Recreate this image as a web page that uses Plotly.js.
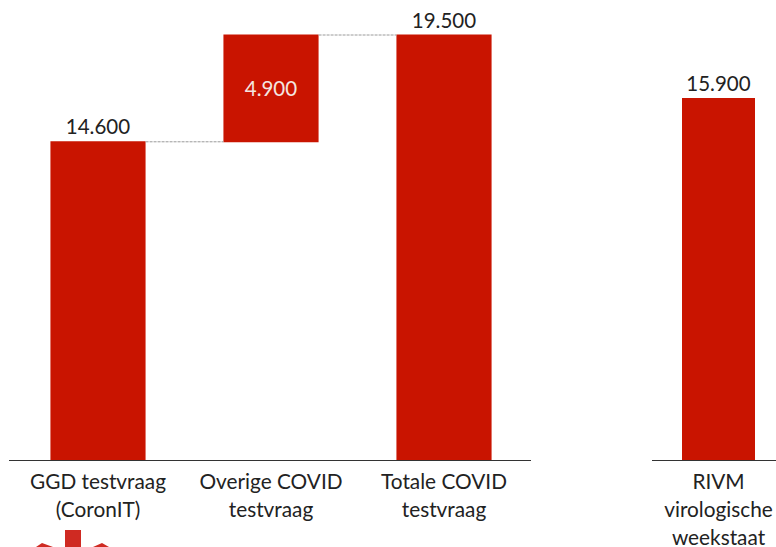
<!DOCTYPE html>
<html>
<head>
<meta charset="utf-8">
<script src="https://cdn.plot.ly/plotly-3.0.1.min.js"></script>
<style>html,body{margin:0;padding:0;background:#fff;overflow:hidden}</style>
</head>
<body>
<div id="chart" style="width:776px;height:547px"></div>
<script>
const leftCategories = [["GGD testvraag", "(CoronIT)"], ["Overige COVID", "testvraag"], ["Totale COVID", "testvraag"]];
const leftValues = [14600, 4900, 19500];
const leftMeasures = ["absolute", "relative", "total"];
const leftLabels = ["14.600", "4.900", "19.500"];
const rightCategories = [["RIVM", "virologische", "weekstaat"]];
const rightValues = [15900];
const rightLabels = ["15.900"];
const RED = "#c91400";
const FONT = "Lato, 'Open Sans', sans-serif";

const W = 776, H = 547;
const baseY = 460;

// The line pitch of a tick label follows the tick font size, so the text itself is set slightly smaller.
const tickLabel = lines => lines.map(l => `<span style="font-size:20.8px">${l}</span>`).join("<br>");

const traces = [
  {
    type: "waterfall", x: [0, 1, 2], y: leftValues, measure: leftMeasures,
    text: leftLabels, textposition: ["outside", "inside", "outside"],
    insidetextanchor: "middle",
    textangle: 0, constraintext: "none",
    outsidetextfont: {family: FONT, size: 20.5, color: "#222"},
    insidetextfont: {family: FONT, size: 20.5, color: "#f4e6e0"},
    width: 0.55,
    increasing: {marker: {color: RED, line: {width: 0}}},
    decreasing: {marker: {color: RED, line: {width: 0}}},
    totals: {marker: {color: RED, line: {width: 0}}},
    connector: {mode: "between", line: {color: "#9a9a9a", width: 1, dash: "3px,1px"}},
    cliponaxis: false, hoverinfo: "skip", xaxis: "x", yaxis: "y"
  },
  {
    type: "bar", x: [0], y: rightValues,
    text: rightLabels, textposition: "outside", textangle: 0,
    outsidetextfont: {family: FONT, size: 20.5, color: "#222"},
    width: 0.55, marker: {color: RED, line: {width: 0}},
    cliponaxis: false, hoverinfo: "skip", xaxis: "x2", yaxis: "y2"
  }
];

const tickFont = {family: FONT, size: 21.5, color: "#222"};
const px = v => v / W;
const py = v => (H - v) / H;
const layout = {
  width: W, height: H,
  margin: {l: 0, r: 0, t: 0, b: 0},
  paper_bgcolor: "#fff", plot_bgcolor: "#fff",
  showlegend: false, bargap: 0,
  xaxis: {
    domain: [9 / W, 531 / W], range: [(9 - 98) / 173, (531 - 98) / 173],
    tickmode: "array", tickvals: [0, 1, 2], ticktext: leftCategories.map(tickLabel),
    tickfont: tickFont, ticks: "", ticklen: 0, ticklabelstandoff: 2,
    showline: true, linecolor: "#333", linewidth: 1, showgrid: false, zeroline: false, anchor: "y"
  },
  yaxis: {
    domain: [(H - baseY) / H, 1], range: [0, 19500 * 460 / 425],
    visible: false, anchor: "x"
  },
  xaxis2: {
    domain: [652 / W, 1], range: [(652 - 718.5) / 133, (776 - 718.5) / 133],
    tickmode: "array", tickvals: [0], ticktext: rightCategories.map(tickLabel),
    tickfont: tickFont, ticks: "", ticklen: 0, ticklabelstandoff: 2,
    showline: true, linecolor: "#333", linewidth: 1, showgrid: false, zeroline: false, anchor: "y2"
  },
  yaxis2: {
    domain: [(H - baseY) / H, 1], range: [0, 15900 * 460 / 362],
    visible: false, anchor: "x2"
  },
  shapes: [
    {type: "rect", xref: "paper", yref: "paper", x0: px(65), x1: px(81), y0: 0, y1: py(530), fillcolor: "#cf2a22", line: {width: 0}},
    {type: "path", xref: "paper", yref: "paper", path: `M ${px(36)} ${py(547)} L ${px(42)} ${py(543)} L ${px(53)} ${py(547)} Z`, fillcolor: "#cf2a22", line: {width: 0}},
    {type: "path", xref: "paper", yref: "paper", path: `M ${px(93)} ${py(547)} L ${px(102)} ${py(543)} L ${px(109)} ${py(547)} Z`, fillcolor: "#cf2a22", line: {width: 0}}
  ]
};
Plotly.newPlot("chart", traces, layout, {staticPlot: true, displayModeBar: false});
</script>
</body>
</html>
